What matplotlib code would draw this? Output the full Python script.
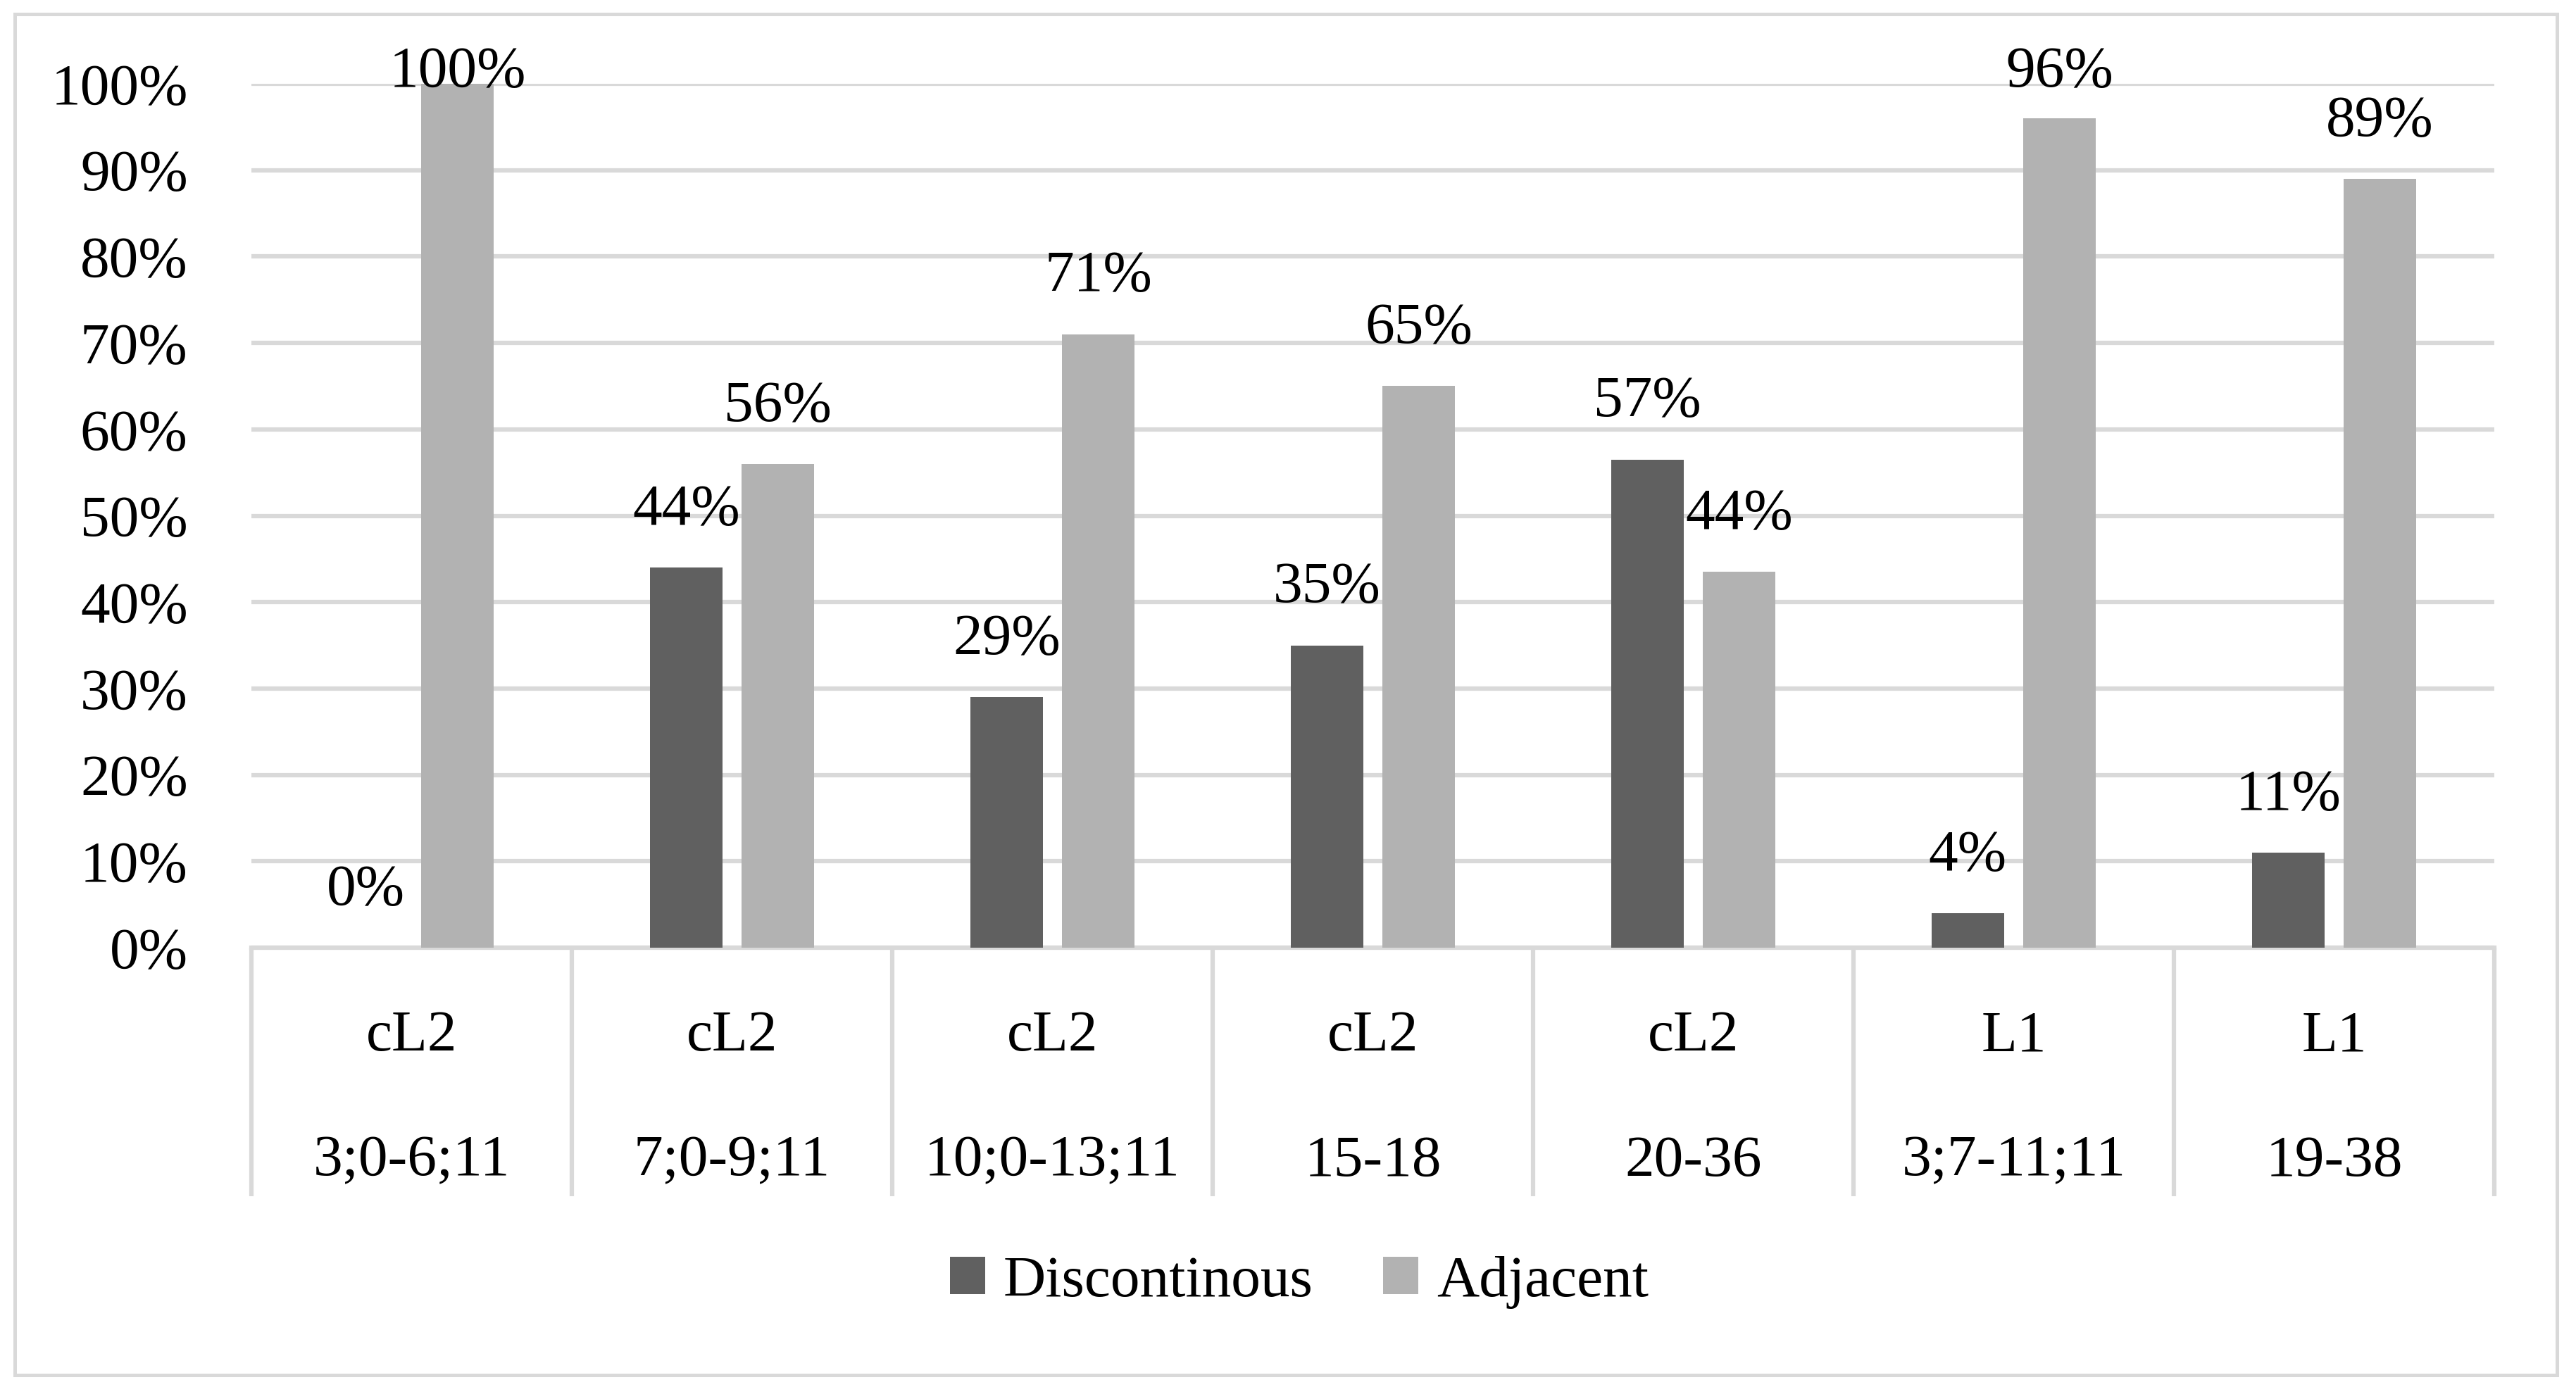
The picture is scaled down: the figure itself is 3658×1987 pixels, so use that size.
import math
import matplotlib
matplotlib.use('Agg')
import matplotlib.pyplot as plt
from matplotlib.patches import Patch, Rectangle

# data
groups = ['cL2', 'cL2', 'cL2', 'cL2', 'cL2', 'L1', 'L1']
ages = ['3;0-6;11', '7;0-9;11', '10;0-13;11', '15-18', '20-36', '3;7-11;11', '19-38']
discontinous = [0, 44, 29, 35, 56.5, 4, 11]
adjacent = [100, 56, 71, 65, 43.5, 96, 89]
yticks = [0, 10, 20, 30, 40, 50, 60, 70, 80, 90, 100]

DARK = '#606060'
LIGHT = '#B2B2B2'
GRID = '#D9D9D9'

plt.rcParams['font.family'] = ['Liberation Serif', 'DejaVu Serif']
FS = 60

W, H = 3658, 1987
fig = plt.figure(figsize=(W / 100, H / 100), dpi=100)

# plot area in pixels: x 357..3542, y 119..1346
ax = fig.add_axes([357 / W, 1 - 1346 / H, (3542 - 357) / W, (1346 - 119) / H])

x = list(range(len(groups)))
bw = 0.226
off = 0.143
ax.bar([i - off for i in x], discontinous, width=bw, color=DARK, zorder=3)
ax.bar([i + off for i in x], adjacent, width=bw, color=LIGHT, zorder=3)

ax.set_xlim(-0.5, len(groups) - 0.5)
ax.set_ylim(0, 100)
ax.set_yticks(yticks)
ax.set_yticklabels([f'{t}%' for t in yticks], fontsize=FS)
ax.tick_params(axis='y', length=0, pad=65)
ax.set_xticks([])
ax.yaxis.grid(True, color=GRID, linewidth=4.5, zorder=0)
ax.set_axisbelow(True)
for s in ['top', 'right', 'left', 'bottom']:
    ax.spines[s].set_visible(False)


def pct(v):
    return f'{math.floor(v + 0.5)}%'


# data labels, baseline about 61 px above the bar, kept inside the chart area
for i in x:
    for v, dx in ((discontinous[i], -off), (adjacent[i], off)):
        ly = min(v + 5.0, 99.7)
        ax.text(i + dx, ly, pct(v), ha='center', va='baseline', fontsize=FS,
                color='black', zorder=4, clip_on=False)

# category table under the axis
trans = ax.get_xaxis_transform()
ax.plot([-0.5, len(groups) - 0.5], [0, 0], transform=trans, color=GRID,
        linewidth=4.5, clip_on=False, zorder=2)
bounds = [i - 0.5 for i in range(len(groups) + 1)]
ax.vlines(bounds, -0.2877, 0, transform=trans, colors=GRID, linewidth=4.5,
          clip_on=False)
for i in x:
    ax.text(i, -0.119, groups[i], transform=trans, ha='center', va='baseline',
            fontsize=FS)
    ax.text(i, -0.2636, ages[i], transform=trans, ha='center', va='baseline',
            fontsize=FS)

# legend
handles = [Patch(facecolor=DARK, edgecolor='none', label='Discontinous'),
           Patch(facecolor=LIGHT, edgecolor='none', label='Adjacent')]
fig.legend(handles=handles, loc='center', bbox_to_anchor=(1845 / W, 1 - 1821 / H),
           ncol=2, frameon=False, fontsize=FS, handlelength=0.6, handleheight=0.6,
           handletextpad=0.31, columnspacing=1.2, borderpad=0)

# chart border
fig.patches.append(Rectangle((21 / W, 1 - 1953 / H), (3631 - 21) / W, (1953 - 20) / H,
                             transform=fig.transFigure, fill=False,
                             edgecolor=GRID, linewidth=3.6))

fig.savefig('out.png', dpi=100, facecolor='white')
